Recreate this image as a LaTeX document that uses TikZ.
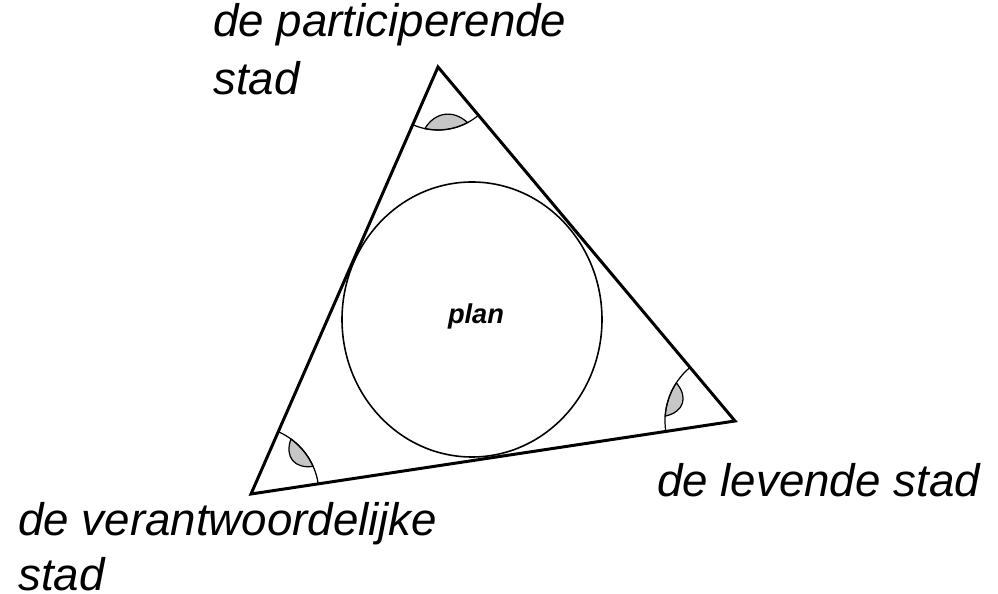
\documentclass[tikz,border=0pt]{standalone}
\usepackage{fontspec}
\setmainfont{Liberation Sans}
\usetikzlibrary{calc}
\definecolor{lensgray}{HTML}{C6C6C6}
\tikzset{
  lbl/.style={anchor=base west, inner sep=0pt, font=\fontsize{26}{32}\selectfont\itshape},
  edge/.style={line width=1.7pt, line join=miter},
  anglearc/.style={line width=0.7pt},
  lens/.style={fill=lensgray, draw=black, line width=0.7pt}
}
\begin{document}
\begin{tikzpicture}[x=0.02cm,y=0.02cm]
\useasboundingbox (0,0) rectangle (998,-594);
\coordinate (T) at (438,-67);
\coordinate (R) at (735,-421);
\coordinate (L) at (251,-494);
\coordinate (C) at (472,-319.5);
% incircle-like ellipse
\draw[line width=0.9pt] (C) ellipse [x radius=130, y radius=137.5];
\node[inner sep=0pt, font=\fontsize{15.5}{18}\selectfont\bfseries\itshape, anchor=base] (plan) at (476,-324) {plan};
% angle marks
\fill[lens] ($(T)+(258:63)$) arc[start angle=258, end angle=298, radius=63]
  .. controls ($(T)+(290:45)$) and ($(T)+(266:45)$) .. cycle;
\draw[anglearc] ($(T)+(246.3:63)$) arc[start angle=246.3, end angle=309.9, radius=63];
\fill[lens] ($(R)+(147:70)$) arc[start angle=147, end angle=176, radius=70]
  .. controls ($(R)+(170:52)$) and ($(R)+(153:52)$) .. cycle;
\draw[anglearc] ($(R)+(130:70)$) arc[start angle=130, end angle=188.6, radius=70];
\fill[lens] ($(L)+(24:68)$) arc[start angle=24, end angle=54, radius=68]
  .. controls ($(L)+(48:50)$) and ($(L)+(30:50)$) .. cycle;
\draw[anglearc] ($(L)+(8.6:68)$) arc[start angle=8.6, end angle=66.3, radius=68];
% triangle
\draw[edge] (T) -- (R) -- (L) -- cycle;
% labels
\node[lbl] (p1) at (213,-37) {de participerende};
\node[lbl] (p2) at (213,-95) {stad};
\node[lbl] (v1) at (18,-536) {de verantwoordelijke};
\node[lbl] (v2) at (18,-591) {stad};
\node[lbl] (lv) at (657,-497) {de levende stad};
\end{tikzpicture}
\end{document}
